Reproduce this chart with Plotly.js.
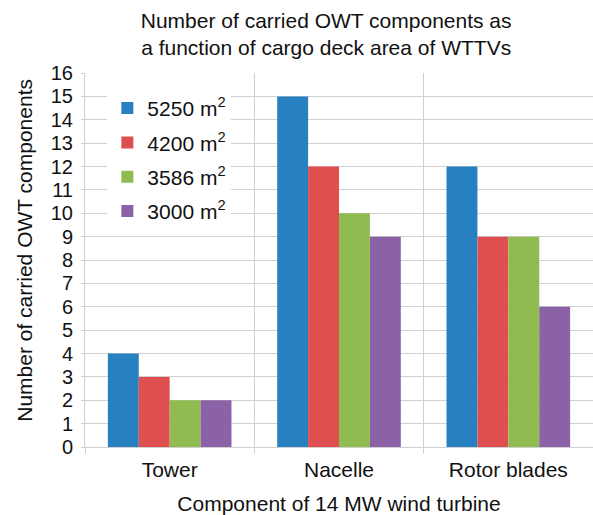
<!DOCTYPE html>
<html>
<head>
<meta charset="utf-8">
<script src="https://cdn.plot.ly/plotly-3.0.1.min.js"></script>
<style>
  html, body { margin: 0; padding: 0; background: #ffffff; }
  #chart { width: 593px; height: 515px; }
</style>
</head>
<body>
<div id="chart"></div>
<script>
// Turbine components on the x axis
const components = ["Tower", "Nacelle", "Rotor blades"];

// Cargo deck areas of the vessels (legend labels)
const deckAreas = ["5250 m<sup>2</sup>", "4200 m<sup>2</sup>", "3586 m<sup>2</sup>", "3000 m<sup>2</sup>"];

// Number of carried components per deck area
const area5250 = [4, 15, 12];
const area4200 = [3, 12, 9];
const area3586 = [2, 10, 9];
const area3000 = [2, 9, 6];

const seriesValues = [area5250, area4200, area3586, area3000];
const seriesColors = ["#2780bf", "#df4f4f", "#8fbb50", "#8b62a6"];

const traces = seriesValues.map((vals, i) => ({
  type: "bar",
  name: deckAreas[i],
  x: components,
  y: vals,
  legendgroup: "g" + i,
  marker: { color: seriesColors[i], line: { width: 0 } },
  hoverinfo: "x+y+name"
}));

const gridColor = "#d0d0d0";
const baseFont = { family: "Liberation Sans, Arial, sans-serif", color: "#111111" };
const f = (size) => Object.assign({ size: size }, baseFont);

const layout = {
  width: 593,
  height: 515,
  margin: { l: 85, r: 0, t: 73, b: 68, pad: 0 },
  paper_bgcolor: "#ffffff",
  plot_bgcolor: "#ffffff",
  font: f(20),
  title: {
    text: "Number of carried OWT components as<br>a function of cargo deck area of WTTVs",
    font: f(21),
    xref: "container",
    yref: "container",
    x: 0.55,
    xanchor: "center",
    y: 1 - 28 / 515,
    yanchor: "middle"
  },
  barmode: "group",
  bargap: 0.27,
  bargroupgap: 0,
  xaxis: {
    type: "category",
    tickson: "boundaries",
    ticks: "outside",
    ticklen: 6,
    tickcolor: gridColor,
    showgrid: true,
    gridcolor: gridColor,
    gridwidth: 1,
    showline: true,
    linecolor: gridColor,
    linewidth: 1,
    ticklabelstandoff: 4,
    tickfont: f(21),
    title: {
      text: "Component of 14 MW wind turbine",
      font: f(21),
      standoff: 18
    }
  },
  yaxis: {
    range: [0, 16],
    dtick: 1,
    tick0: 0,
    ticks: "outside",
    ticklen: 3,
    tickcolor: gridColor,
    showgrid: true,
    gridcolor: gridColor,
    gridwidth: 1,
    showline: true,
    linecolor: gridColor,
    linewidth: 1,
    zeroline: false,
    ticklabelstandoff: 4,
    tickfont: f(20)
  },
  // Rotated y-axis caption, placed as an annotation so it can sit slightly above the plot centre
  annotations: [{
    text: "Number of carried OWT components",
    textangle: -90,
    font: f(21),
    xref: "paper",
    yref: "paper",
    x: -60 / 508,
    y: (447.5 - 251) / 374.5,
    xanchor: "center",
    yanchor: "middle",
    showarrow: false
  }],
  legend: {
    x: 0.044,
    xanchor: "left",
    y: 0.96,
    yanchor: "top",
    bgcolor: "#ffffff",
    borderwidth: 0,
    font: f(21),
    tracegroupgap: 4,
    itemwidth: 30
  },
  showlegend: true
};

Plotly.newPlot("chart", traces, layout, { displayModeBar: false, staticPlot: true });
</script>
</body>
</html>
